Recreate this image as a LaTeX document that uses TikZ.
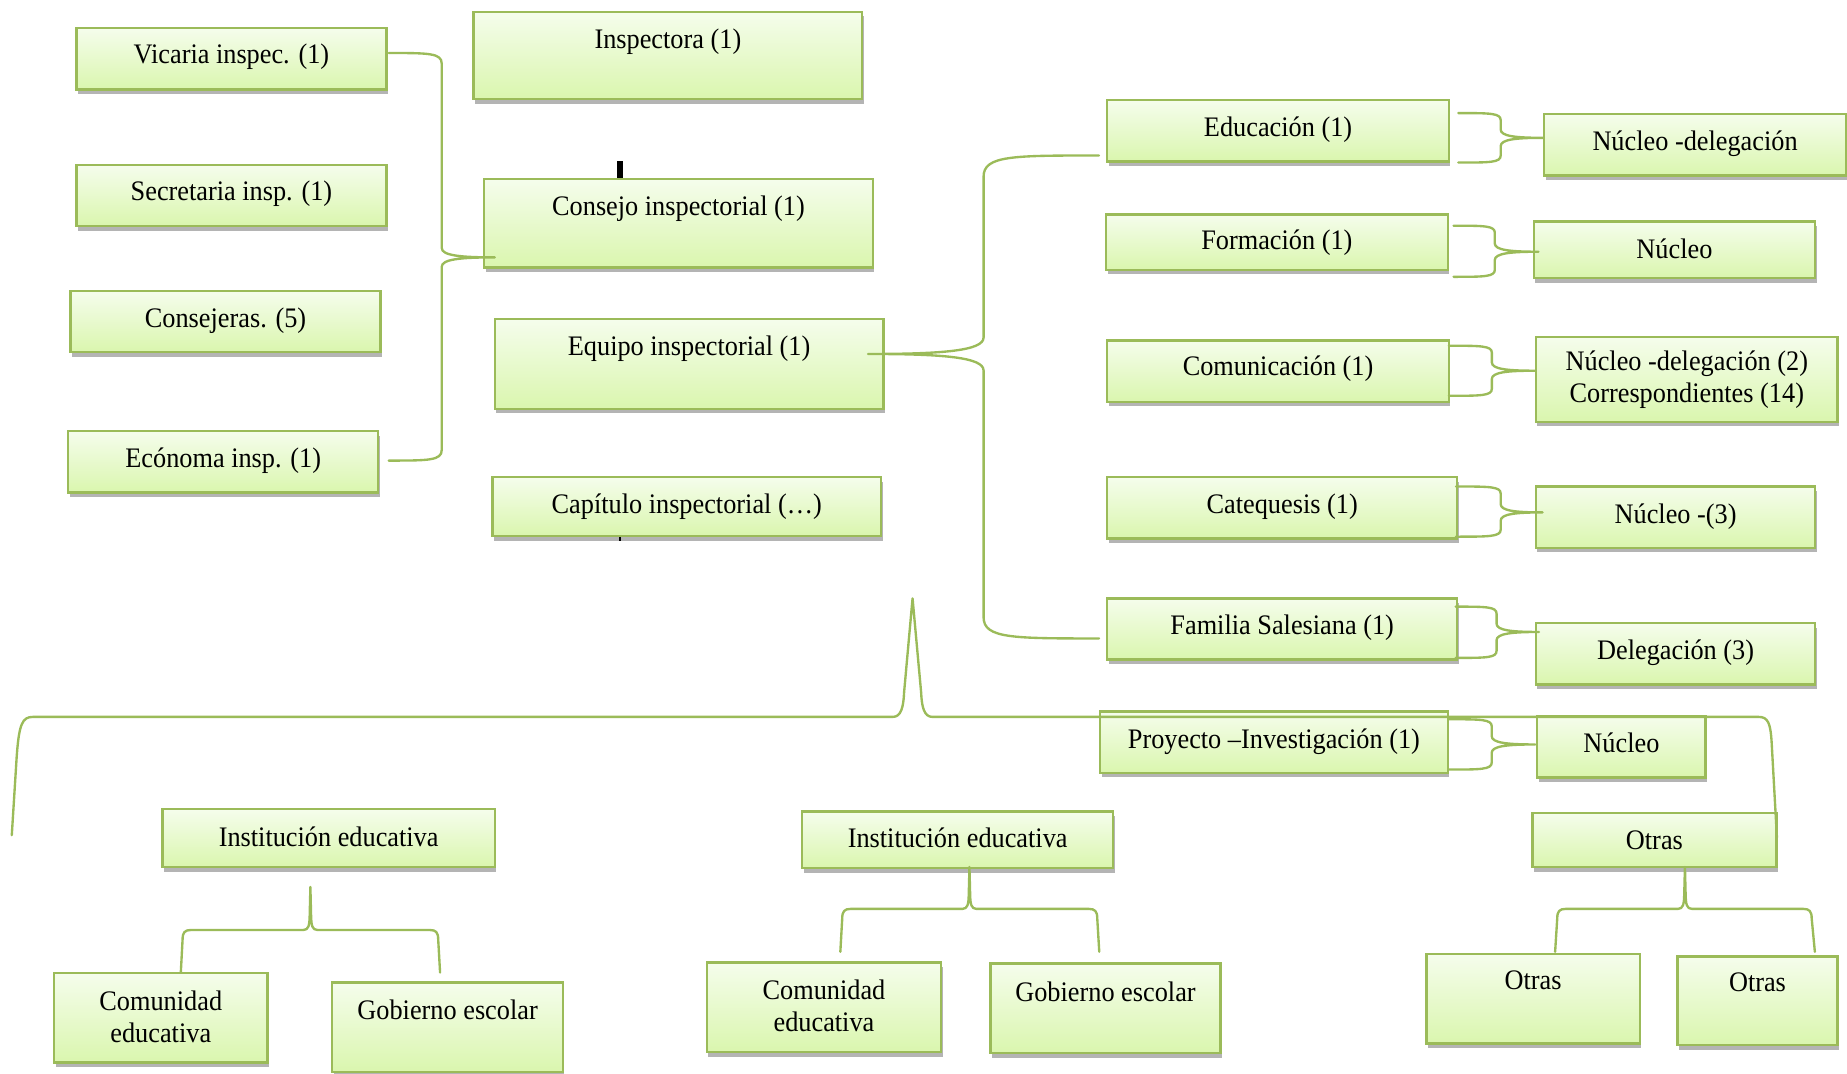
\documentclass[tikz,border=0pt]{standalone}
\usepackage{fontspec}
\setmainfont{Liberation Serif}[FakeStretch=0.93]
\usetikzlibrary{shadows}
\definecolor{bord}{HTML}{9BBB59}
\definecolor{ftop}{HTML}{F5FDEC}
\definecolor{fbot}{HTML}{DAF6AE}
\tikzset{
  boxst/.style={draw=bord, line width=1pt, top color=ftop, bottom color=fbot, inner sep=0pt, outer sep=0pt,
    drop shadow={shadow xshift=0.6pt, shadow yshift=-2pt, opacity=0.45, fill=black!65}},
  lbl/.style={inner sep=0pt, align=center, text height=8.4pt, text depth=2.6pt, font=\fontsize{12}{13.5}\selectfont},
  lbltwo/.style={inner sep=0pt, align=center, font=\fontsize{12}{13.5}\selectfont},
  conn/.style={draw=bord, line width=1pt, line join=round, line cap=round},
  tickmark/.style={fill=black, draw=none},
}
% box: name, x1, y1, x2, y2, text, text-y
\newcommand\bx[7]{%
  \pgfmathsetmacro\mybw{(#4-#2)*0.5}%
  \pgfmathsetmacro\mybh{(#5-#3)*0.5}%
  \node[boxst, minimum width=\mybw pt, minimum height=\mybh pt] (#1) at ({(#2+#4)/2},{(#3+#5)/2}) {};
  \node[lbl] (#1-t) at ({(#2+#4)/2},#7) {#6};
}
\newcommand\bxtwo[7]{%
  \pgfmathsetmacro\mybw{(#4-#2)*0.5}%
  \pgfmathsetmacro\mybh{(#5-#3)*0.5}%
  \node[boxst, minimum width=\mybw pt, minimum height=\mybh pt] (#1) at ({(#2+#4)/2},{(#3+#5)/2}) {};
  \node[lbltwo] (#1-t) at ({(#2+#4)/2},#7) {#6};
}
% horizontal brace: name, x-end, y-top, y-bottom, x-vertical, x-tip, y-tip, end radius, tip radius
\newcommand\HBr[9]{%
  \coordinate (#1a) at (#2,#3);
  \coordinate (#1b) at (#2,#4);
  \coordinate (#1t) at (#6,#7);
  \draw[conn] (#1a) .. controls ({#5+0.25*(#2-#5)},#3) and (#5,#3) .. (#5,{#3+#8})
    -- (#5,{#7-#9}) .. controls (#5,{#7-0.2*#9}) and ({#5+0.35*(#6-#5)},#7) .. (#1t)
    .. controls ({#5+0.35*(#6-#5)},#7) and (#5,{#7+0.2*#9}) .. (#5,{#7+#9})
    -- (#5,{#4-#8}) .. controls (#5,#4) and ({#5+0.25*(#2-#5)},#4) .. (#1b);
}
% vertical brace: name, y-end, xL-end, xL-corner, xR-corner, xR-end, y-horizontal, x-tip, y-tip
\newcommand\VBr[9]{%
  \coordinate (#1L) at (#3,#2);
  \coordinate (#1R) at (#6,#2);
  \coordinate (#1T) at (#8,#9);
  \draw[conn] (#1L) -- (#4,{#7+8}) .. controls (#4,{#7+2}) and ({#4+2},#7) .. ({#4+7},#7)
    -- ({#8-6},#7) .. controls ({#8-1.5},#7) and ({#8-0.8},{#7-4}) .. ({#8-0.6},{#7-12}) -- (#1T)
    -- ({#8+0.6},{#7-12}) .. controls ({#8+0.8},{#7-4}) and ({#8+1.5},#7) .. ({#8+6},#7)
    -- ({#5-7},#7) .. controls ({#5-2},#7) and (#5,{#7+2}) .. (#5,{#7+8}) -- (#1R);
}
\begin{document}
\begin{tikzpicture}[x=0.5pt,y=-0.5pt]
\useasboundingbox (0,0) rectangle (1568,911);
% left column
\bx{vic}{65}{24}{328}{76}{Vicaria inspec. (1)}{48}
\bx{sec}{65}{140}{328}{192}{Secretaria insp. (1)}{164}
\bx{cons}{60}{247}{323}{299}{Consejeras. (5)}{272}
\bx{eco}{58}{366}{321}{418}{Ecónoma insp. (1)}{391}
% middle column
\bx{insp}{402}{10}{732}{84}{Inspectora (1)}{35}
\bx{consejo}{411}{152}{741}{227}{Consejo inspectorial (1)}{177}
\bx{equipo}{420}{271}{750}{347}{Equipo inspectorial (1)}{296}
\bx{cap}{418}{405}{748}{455}{Capítulo inspectorial (…)}{430}
% right column
\bx{edu}{940}{85}{1230}{137}{Educación (1)}{110}
\bx{form}{939}{182}{1229}{229}{Formación (1)}{206}
\bx{com}{940}{289}{1230}{341}{Comunicación (1)}{313}
\bx{cat}{940}{405}{1237}{457}{Catequesis (1)}{430}
\bx{fam}{940}{508}{1237}{560}{Familia Salesiana (1)}{533}
\bx{proy}{934}{604}{1229}{656}{Proyecto –Investigación (1)}{630}
% far right
\bx{nd}{1311}{97}{1567}{149}{Núcleo -delegación}{122}
\bx{na}{1302}{188}{1541}{236}{Núcleo}{214}
\bxtwo{ndb}{1304}{286}{1560}{358}{Núcleo -delegación (2)\\Correspondientes (14)}{322}
\bx{nc}{1304}{413}{1541}{465}{Núcleo -(3)}{439}
\bx{del}{1304}{529}{1541}{581}{Delegación (3)}{554}
\bx{nn}{1305}{608}{1448}{660}{Núcleo}{633}
% bottom
\bx{iea}{138}{687}{420}{736}{Institución educativa}{713}
\bx{ieb}{681}{689}{945}{737}{Institución educativa}{714}
\bx{otr}{1301}{690}{1508}{736}{Otras}{715}
\bxtwo{cea}{46}{826}{227}{902}{Comunidad\\educativa}{863}
\bx{gea}{282}{834}{478}{910}{Gobierno escolar}{860}
\bxtwo{ceb}{600}{817}{799}{893}{Comunidad\\educativa}{854}
\bx{geb}{841}{818}{1036}{894}{Gobierno escolar}{844}
\bx{oa}{1211}{810}{1392}{886}{Otras}{834}
\bx{ob}{1424}{812}{1560}{887}{Otras}{836}
% connectors
\HBr{bl}{330}{45}{391}{375}{420}{218.5}{9}{8}
\HBr{be}{933}{132}{542}{835}{737}{300.5}{18}{14}
\HBr{ba}{1238}{96}{138}{1274}{1310}{117}{6}{7}
\HBr{bb}{1234}{191.6}{235}{1269}{1306}{213.7}{6}{7}
\HBr{bc}{1230}{293.5}{336}{1266.5}{1303}{314.7}{6}{7}
\HBr{bd}{1236}{413}{455.6}{1274}{1309.6}{435}{6}{7}
\HBr{bf}{1235.7}{515}{558.5}{1270.5}{1306.4}{536.5}{6}{7}
\HBr{bg}{1229.5}{610.6}{653.3}{1266.4}{1303.3}{632}{6}{7}
% big bottom brace
\coordinate (bbL) at (10,709);
\coordinate (bbT) at (774.7,508);
\coordinate (bbR) at (1508.5,711);
\draw[conn] (bbL) -- (14,645) .. controls (16,614) and (19,608.6) .. (28,608.6)
  -- (758,608.6) .. controls (765,608.6) and (767,600) .. (767.5,588) -- (bbT)
  -- (782,588) .. controls (782.5,600) and (784.5,608.6) .. (791.5,608.6)
  -- (1493,608.6) .. controls (1501,608.6) and (1503,614) .. (1504,630) -- (bbR);
\VBr{va}{825.6}{153.5}{155}{372}{373.6}{789.5}{263.5}{753}
\VBr{vb}{808}{713.4}{715}{931.5}{933.2}{771.6}{823}{736}
\VBr{vc}{808}{1320.2}{1322}{1538}{1540.7}{771.6}{1430.4}{736}
% small black marks
\fill[tickmark] (524,137) rectangle (529,151);
\fill[tickmark] (525.6,456) rectangle (527,459);
\end{tikzpicture}
\end{document}
